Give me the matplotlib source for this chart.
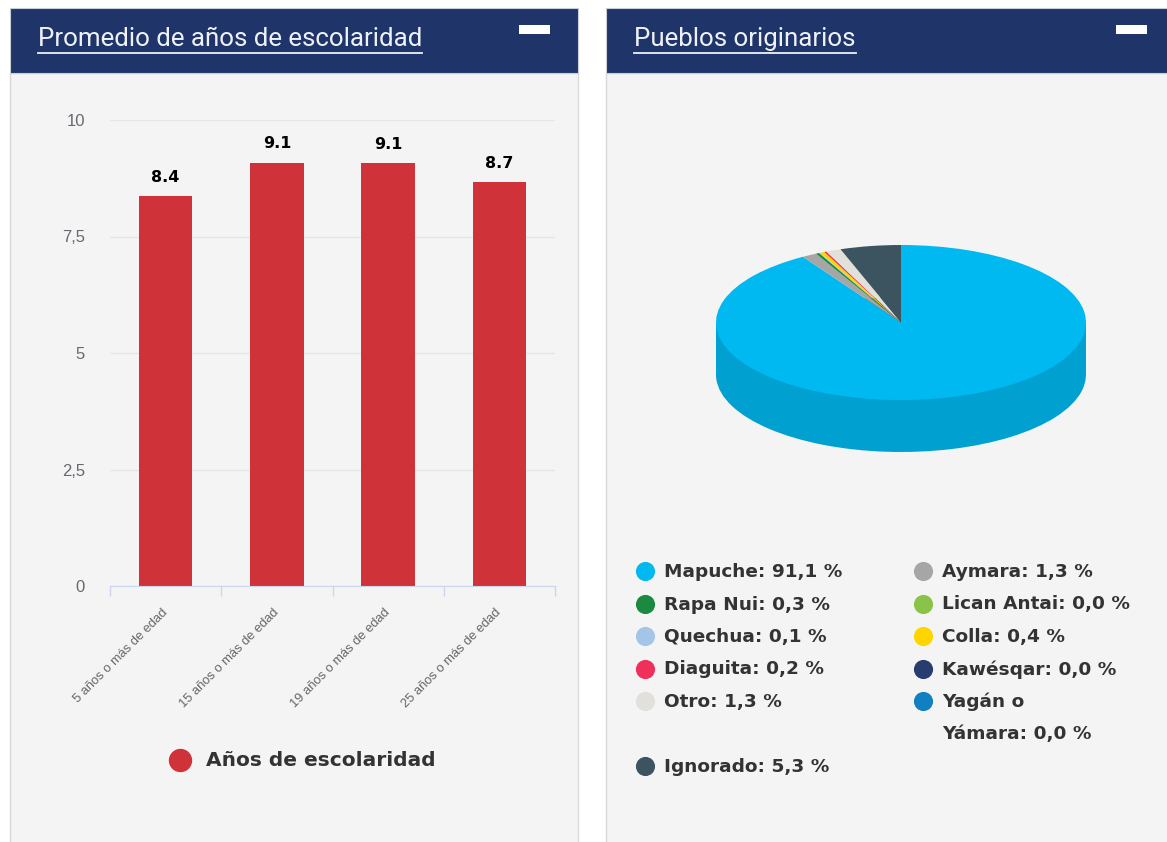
import numpy as np
import matplotlib.pyplot as plt
from matplotlib.patches import Rectangle
import matplotlib.colors as mcolors

W, H = 1167, 842

# bar chart data
grupos = ['5 años o más de edad', '15 años o más de edad',
          '19 años o más de edad', '25 años o más de edad']
escolaridad = [8.36, 9.08, 9.07, 8.66]
y_ticks = [0, 2.5, 5, 7.5, 10]
y_tick_labels = ['0', '2,5', '5', '7,5', '10']
serie_barras = 'Años de escolaridad'

# pie data (row-major legend order)
pueblos = ['Mapuche', 'Aymara', 'Rapa Nui', 'Lican Antai', 'Quechua', 'Colla',
           'Diaguita', 'Kawésqar', 'Otro', 'Yagán o Yámara', 'Ignorado']
porcentajes = [91.1, 1.3, 0.3, 0.0, 0.1, 0.4, 0.2, 0.0, 1.3, 0.0, 5.3]
colores = ['#00b9f0', '#a6a6a6', '#1b8a40', '#8bc34a', '#a3c6e8', '#ffd500',
           '#f0305a', '#283c70', '#e2e0da', '#1180c0', '#3c5360']

titulos = ['Promedio de años de escolaridad', 'Pueblos originarios']

header_col = '#1f3569'
panel_col = '#f4f4f4'
bar_col = '#cf3339'
text_col = '#333333'


def box(x0, y0, x1, y1):
    # pixel box (top-left origin) -> figure fraction
    return [x0 / W, 1 - y1 / H, (x1 - x0) / W, (y1 - y0) / H]


fig = plt.figure(figsize=(W / 100, H / 100), dpi=100)
fig.patch.set_facecolor('white')

# background / panels in pixel coordinates
bg = fig.add_axes([0, 0, 1, 1])
bg.set_xlim(0, W)
bg.set_ylim(H, 0)
bg.axis('off')

panels = [(10, 578), (606, 1175)]
for (x0, x1), titulo, icon_x in zip(panels, titulos, [519, 1116]):
    bg.add_patch(Rectangle((x0, 73), x1 - x0, H - 73 + 5, fc=panel_col, ec='#dadada', lw=1))
    bg.add_patch(Rectangle((x0, 8), x1 - x0, 65, fc=header_col, ec='#c8cdd8', lw=0.8))
    bg.add_patch(Rectangle((icon_x, 25), 31, 9, fc='white', ec='none'))
    t = bg.text(x0 + 28, 39, titulo, color='#eef1f7', fontsize=18.6, family='Roboto', va='center', ha='left')

fig.canvas.draw()
r = fig.canvas.get_renderer()
inv = bg.transData.inverted()
for t in bg.texts:
    bb = t.get_window_extent(renderer=r)
    (xa, _), (xb, _) = inv.transform([(bb.x0, bb.y0), (bb.x1, bb.y1)])
    bg.plot([xa, xb], [53, 53], color='#eef1f7', lw=1.3)

# ---- bar chart ----
ax = fig.add_axes(box(110, 120, 555, 586))
ax.patch.set_alpha(0)
xpos = np.arange(len(grupos))
bars = ax.bar(xpos, escolaridad, width=0.48, color=bar_col, zorder=2)
ax.bar_label(bars, labels=[f'{v:.1f}' for v in escolaridad], padding=8.5,
             fontsize=11.5, fontweight='bold', color='black', family='DejaVu Sans')
ax.set_xlim(-0.5, len(grupos) - 0.5)
ax.set_ylim(0, 10)
ax.set_yticks(y_ticks, y_tick_labels)
ax.yaxis.grid(True, color='#e6e6e6', lw=1)
ax.set_axisbelow(True)
for s in ['top', 'right', 'left']:
    ax.spines[s].set_visible(False)
ax.spines['bottom'].set_color('#ccd6eb')
ax.tick_params(axis='y', length=0, pad=18, labelsize=12, labelcolor='#666a70')
for lab in ax.get_yticklabels():
    lab.set_family('Liberation Sans')
ax.set_xticks(xpos)
ax.set_xticklabels(grupos, rotation=45, ha='right', va='center', rotation_mode='anchor',
                   fontsize=9.3, color='#666666', family='Liberation Sans')
ax.set_xticks(np.arange(-0.5, len(grupos)), minor=True)
ax.tick_params(axis='x', which='major', length=0, pad=18)
ax.tick_params(axis='x', which='minor', length=7.5, color='#ccd6eb', width=1)

# bar legend
bg.scatter([180], [760], s=250, color=bar_col, zorder=3)
bg.text(206, 761, serie_barras, fontsize=14.5, fontweight='bold', color=text_col,
        va='center', ha='left', family='DejaVu Sans')

# ---- 3D-looking pie ----
depth = 52 / 77.5
pax = fig.add_axes(box(716, 245, 1086, 452))
lados = [tuple(np.array(mcolors.to_rgb(c)) * 0.87) for c in colores]
pax.pie(porcentajes, colors=lados, startangle=90, counterclock=False,
        center=(0, -depth), wedgeprops=dict(lw=0, zorder=1))
pax.fill_between([-1, 1], -depth, 0, color=lados[0], lw=0, zorder=1.5)
pax.pie(porcentajes, colors=colores, startangle=90, counterclock=False,
        wedgeprops=dict(lw=0, zorder=2))
pax.set_aspect('auto')
pax.set_xlim(-1, 1)
pax.set_ylim(-1 - depth, 1)
pax.axis('off')

# pie legend, two columns, row-major
col_x = [645, 923]
y = 571
for r0 in range(0, len(pueblos), 2):
    n_lines = 1
    for c, i in enumerate(range(r0, min(r0 + 2, len(pueblos)))):
        name = pueblos[i]
        if len(name) > 12:
            name = '\n'.join(name.rsplit(' ', 1))
        label = f"{name}: {porcentajes[i]:.1f}".replace('.', ',') + ' %'
        lines = label.split('\n')
        n_lines = max(n_lines, len(lines))
        bg.scatter([col_x[c]], [y], s=190, color=colores[i], zorder=3, lw=0)
        for k, line in enumerate(lines):
            bg.text(col_x[c] + 19, y + 32 * k + 1, line, fontsize=13.3, fontweight='bold',
                    color=text_col, va='center', ha='left', family='DejaVu Sans')
    y += 32.5 * n_lines

fig.savefig('out.png', dpi=100, facecolor=fig.get_facecolor())
